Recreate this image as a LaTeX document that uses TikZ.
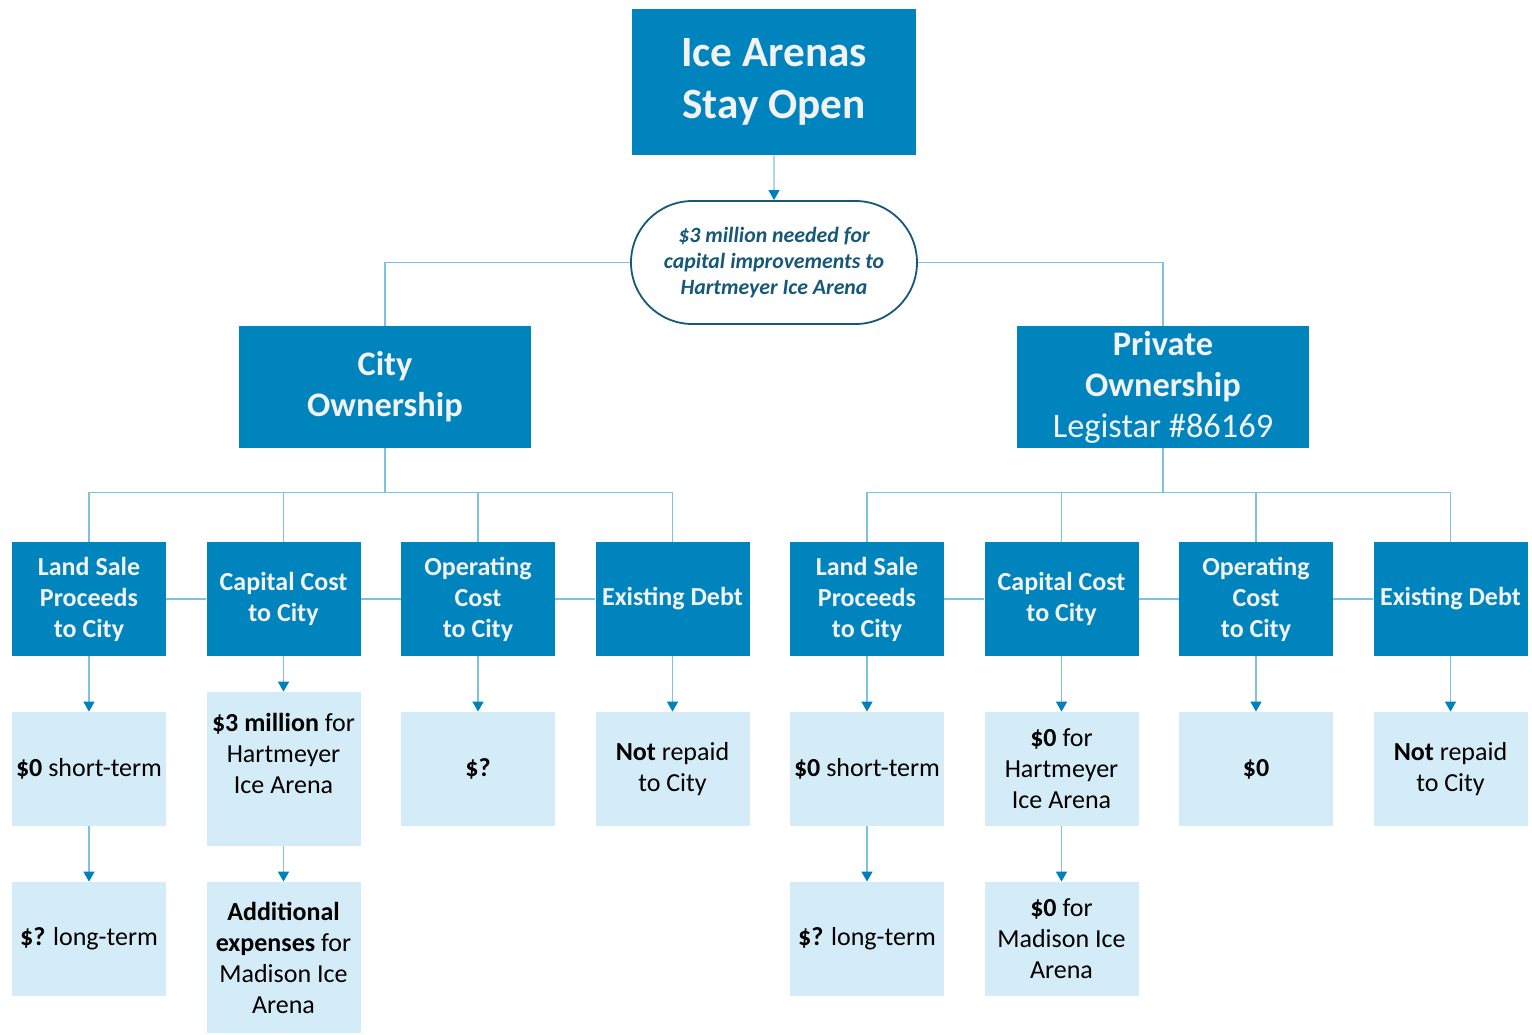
\documentclass[tikz,border=0pt]{standalone}
\usepackage{fontspec}
\setmainfont{Carlito}
\usetikzlibrary{arrows.meta,shapes.misc}
\definecolor{darkbox}{RGB}{0,132,190}
\definecolor{lightbox}{RGB}{212,236,248}
\definecolor{linkline}{RGB}{125,195,225}
\definecolor{tiptone}{RGB}{0,128,188}
\definecolor{ovaltext}{RGB}{22,88,120}
\definecolor{boxtext}{RGB}{242,242,242}
\begin{document}
\begin{tikzpicture}[x=0.5pt,y=-0.5pt,
  titlebox/.style={fill=darkbox,text=boxtext,font=\bfseries\fontsize{21.6}{26}\selectfont,align=center,
    minimum width=142pt,minimum height=73pt,inner sep=0pt},
  ownerbox/.style={fill=darkbox,text=boxtext,font=\bfseries\fontsize{17.2}{20.5}\selectfont,align=center,
    minimum width=146pt,minimum height=61pt,inner sep=0pt},
  topicbox/.style={fill=darkbox,text=boxtext,font=\bfseries\fontsize{13}{15.5}\selectfont,align=center,
    minimum width=77pt,minimum height=57pt,inner sep=0pt},
  resultbox/.style={fill=lightbox,text=black,font=\fontsize{13}{15.5}\selectfont,align=center,
    minimum width=77pt,minimum height=57pt,inner sep=0pt},
  ovalbox/.style={rounded rectangle,draw=ovaltext,line width=0.9pt,fill=white,text=ovaltext,
    font=\bfseries\itshape\fontsize{10.9}{13}\selectfont,align=center,
    minimum width=143pt,minimum height=61.5pt,inner sep=0pt},
  link/.style={draw=linkline,line width=0.7pt},
  flow/.style={link,-{Triangle[length=5pt,width=5.5pt,color=tiptone]}}]
  \useasboundingbox (0,0) rectangle (1532,1034);

  \node[titlebox] (arena) at (774,82) {Ice Arenas\\Stay Open};
  \node[ovalbox] (need) at (774,262.5) {\$3 million needed for\\capital improvements to\\Hartmeyer Ice Arena};
  \node[ownerbox] (city) at (385,387) {City\\Ownership};
  \node[ownerbox] (private) at (1163,387) {Private\\Ownership\\\mdseries Legistar \#86169};

  % city side
  \node[topicbox] (cityland) at (89,599) {Land Sale\\Proceeds\\to City};
  \node[topicbox] (citycap) at (283.5,599) {Capital Cost\\to City};
  \node[topicbox] (cityop) at (478,599) {Operating\\Cost\\to City};
  \node[topicbox] (citydebt) at (672.5,599) {Existing Debt};
  \node[resultbox] (citylandnow) at (89,769) {\textbf{\$0} short-term};
  \node[resultbox,minimum height=77pt] (citycapnow) at (283.5,769) {\textbf{\$3 million} for\\Hartmeyer\\Ice Arena\\\mbox{}};
  \node[resultbox] (cityopnow) at (478,769) {\textbf{\$?}};
  \node[resultbox] (citydebtnow) at (672.5,769) {\textbf{Not} repaid\\to City};
  \node[resultbox] (citylandlater) at (89,939) {\textbf{\$?} long-term};
  \node[resultbox,minimum height=75.5pt] (citycaplater) at (283.5,957.5) {\textbf{Additional}\\\textbf{expenses} for\\Madison Ice\\Arena};

  % private side
  \node[topicbox] (privland) at (867,599) {Land Sale\\Proceeds\\to City};
  \node[topicbox] (privcap) at (1061.5,599) {Capital Cost\\to City};
  \node[topicbox] (privop) at (1256,599) {Operating\\Cost\\to City};
  \node[topicbox] (privdebt) at (1450.5,599) {Existing Debt};
  \node[resultbox] (privlandnow) at (867,769) {\textbf{\$0} short-term};
  \node[resultbox] (privcapnow) at (1061.5,769) {\textbf{\$0} for\\Hartmeyer\\Ice Arena};
  \node[resultbox] (privopnow) at (1256,769) {\textbf{\$0}};
  \node[resultbox] (privdebtnow) at (1450.5,769) {\textbf{Not} repaid\\to City};
  \node[resultbox] (privlandlater) at (867,939) {\textbf{\$?} long-term};
  \node[resultbox] (privcaplater) at (1061.5,939) {\textbf{\$0} for\\Madison Ice\\Arena};

  \draw[flow] (arena) -- (need);
  \draw[link] (need.west) -| (city.north);
  \draw[link] (need.east) -| (private.north);
  \foreach \t in {cityland,citycap,cityop,citydebt}
    \draw[link] (city.south) -- ++(0,44) -| (\t.north);
  \foreach \t in {privland,privcap,privop,privdebt}
    \draw[link] (private.south) -- ++(0,44) -| (\t.north);
  \draw[link] (cityland) -- (citycap) (citycap) -- (cityop) (cityop) -- (citydebt);
  \draw[link] (privland) -- (privcap) (privcap) -- (privop) (privop) -- (privdebt);
  \foreach \t in {cityland,citycap,cityop,citydebt,privland,privcap,privop,privdebt}
    \draw[flow] (\t) -- (\t now);
  \foreach \t in {cityland,citycap,privland,privcap}
    \draw[flow] (\t now) -- (\t later);
\end{tikzpicture}
\end{document}
